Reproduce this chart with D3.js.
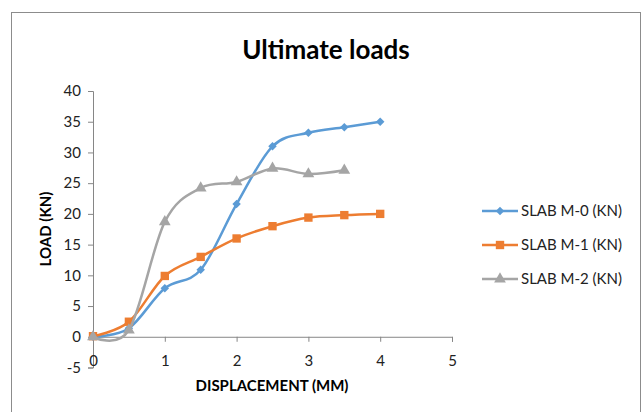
<!DOCTYPE html>
<html>
<head>
<meta charset="utf-8">
<script src="https://cdn.jsdelivr.net/npm/d3@7"></script>
<style>
  body { margin: 0; background: #fff; }
  svg { display: block; }
  text { font-family: Lato, "Open Sans", sans-serif; }
</style>
</head>
<body>
<div id="graphic"></div>
<script>
// data
var xsM0 = [0, 0.5, 1, 1.5, 2, 2.5, 3, 3.5, 4];
var loadM0 = [0, 1.4, 7.9, 10.9, 21.6, 31, 33.2, 34.1, 35];
var xsM1 = [0, 0.5, 1, 1.5, 2, 2.5, 3, 3.5, 4];
var loadM1 = [0.1, 2.45, 9.9, 13, 16, 18, 19.4, 19.8, 20];
var xsM2 = [0, 0.5, 1, 1.5, 2, 2.5, 3, 3.5];
var loadM2 = [0, 1.1, 18.7, 24.2, 25.2, 27.4, 26.5, 27.1];
var seriesNames = ["SLAB M-0 (KN)", "SLAB M-1 (KN)", "SLAB M-2 (KN)"];
var xTicks = [0, 1, 2, 3, 4, 5];
var yTicks = [-5, 0, 5, 10, 15, 20, 25, 30, 35, 40];

// diamond = square turned 45 degrees
var series = [
  { name: seriesNames[0], xs: xsM0, ys: loadM0, color: "#5B9BD5", shape: d3.symbolSquare, size: 36, rot: 45 },
  { name: seriesNames[1], xs: xsM1, ys: loadM1, color: "#ED7D31", shape: d3.symbolSquare, size: 70, rot: 0 },
  { name: seriesNames[2], xs: xsM2, ys: loadM2, color: "#A5A5A5", shape: d3.symbolTriangle, size: 60, rot: 0 }
];

var svg = d3.select("#graphic").append("svg")
        .attr("width", 644)
        .attr("height", 412);

// chart frame
svg.append("rect")
        .attr("x", 11.5)
        .attr("y", 12.5)
        .attr("width", 629)
        .attr("height", 410)
        .style("fill", "#fff")
        .style("stroke", "#8c8c8c")
        .style("stroke-width", 1);

var x = d3.scaleLinear().domain([0, 5]).range([93, 452]);
var y = d3.scaleLinear().domain([-5, 40]).range([367.5, 91]);

// title
svg.append("text")
        .attr("x", 326)
        .attr("y", 59)
        .attr("text-anchor", "middle")
        .style("font-size", "26px")
        .style("font-weight", "bold")
        .style("fill", "#000")
        .text("Ultimate loads");

var fmt = function (d) { return String(d); };

// y axis
var yAxis = svg.append("g")
        .attr("transform", "translate(" + x(0) + ",0)")
        .call(d3.axisLeft(y).tickValues(yTicks).tickFormat(fmt).tickSize(5).tickPadding(7));

// x axis at y = 0
var xAxis = svg.append("g")
        .attr("transform", "translate(0," + y(0) + ")")
        .call(d3.axisBottom(x).tickValues(xTicks).tickFormat(fmt).tickSize(5).tickPadding(0));

[yAxis, xAxis].forEach(function (g) {
  g.select(".domain").style("stroke", "#868686");
  g.selectAll(".tick line").style("stroke", "#868686");
  g.selectAll(".tick text")
        .style("font-family", "Lato, 'Open Sans', sans-serif")
        .style("font-size", "15px")
        .style("fill", "#222");
});
// x tick labels sit low, near the -5 level
xAxis.selectAll(".tick text").attr("y", 19);

// axis titles
svg.append("text")
        .attr("x", 272)
        .attr("y", 391)
        .attr("text-anchor", "middle")
        .style("font-size", "15px")
        .style("font-weight", "bold")
        .text("DISPLACEMENT (MM)");

svg.append("text")
        .attr("transform", "translate(51,229) rotate(-90)")
        .attr("text-anchor", "middle")
        .style("font-size", "15px")
        .style("font-weight", "bold")
        .text("LOAD (KN)");

// lines
var line = d3.line()
        .x(function (d) { return x(d[0]); })
        .y(function (d) { return y(d[1]); })
        .curve(d3.curveCardinal.tension(0));

series.forEach(function (s) {
  var pts = s.xs.map(function (v, i) { return [v, s.ys[i]]; });
  var g = svg.append("g");
  g.append("path")
        .attr("d", line(pts))
        .style("fill", "none")
        .style("stroke", s.color)
        .style("stroke-width", 2.5)
        .style("stroke-linejoin", "round");
  g.selectAll("path.pt").data(pts).enter().append("path")
        .attr("class", "pt")
        .attr("transform", function (d) {
          return "translate(" + x(d[0]) + "," + y(d[1]) + ") rotate(" + s.rot + ")";
        })
        .attr("d", d3.symbol().type(s.shape).size(s.size))
        .style("fill", s.color);
});

// legend
var legend = svg.append("g");
series.forEach(function (s, i) {
  var ly = 211 + i * 34;
  legend.append("line")
        .attr("x1", 482).attr("x2", 518)
        .attr("y1", ly).attr("y2", ly)
        .style("stroke", s.color)
        .style("stroke-width", 2.5);
  legend.append("path")
        .attr("transform", "translate(500," + ly + ") rotate(" + s.rot + ")")
        .attr("d", d3.symbol().type(s.shape).size(s.size))
        .style("fill", s.color);
  legend.append("text")
        .attr("x", 521)
        .attr("y", ly + 5)
        .style("font-size", "15px")
        .style("fill", "#222")
        .text(s.name);
});
</script>
</body>
</html>
